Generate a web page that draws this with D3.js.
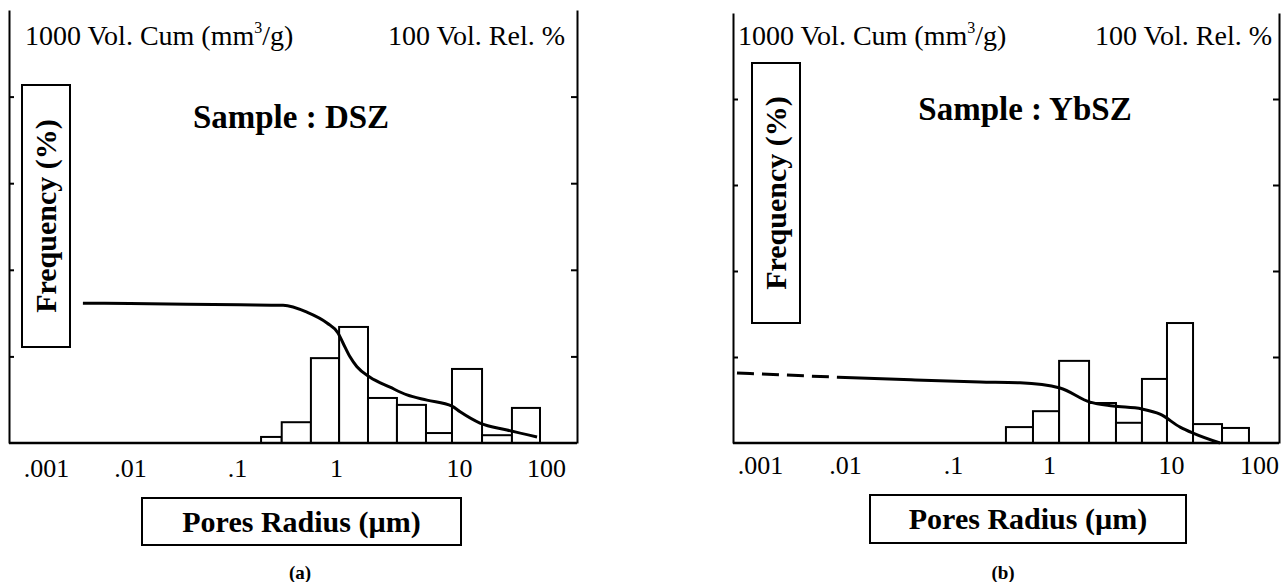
<!DOCTYPE html>
<html>
<head>
<meta charset="utf-8">
<script src="https://cdnjs.cloudflare.com/ajax/libs/d3/7.8.5/d3.min.js"></script>
<style>
  body { margin: 0; background: #fff; }
  svg { display: block; font-family: "Liberation Serif", "Times New Roman", serif; }
</style>
</head>
<body>
<svg id="chart" width="1286" height="582"></svg>
<script>
// pore radius axis (um), log scale; decades are not evenly spaced in the original plot
var radiusTicks = [0.001, 0.01, 0.1, 1, 10, 100];
var radiusLabels = [".001", ".01", ".1", "1", "10", "100"];
var cumTicks = [200, 400, 600, 800];   // left axis, mm3/g (top = 1000)
var relTicks = [20, 40, 60, 80];       // right axis, % (top = 100)

// sample DSZ : histogram (relative volume %) on bin edges
var dszEdges = [0.175, 0.283, 0.558, 1.06, 1.82, 3.13, 5.39, 8.77, 18.4, 40.6, 85.3];
var dszRel = [1.4, 4.8, 19.6, 26.8, 10.4, 8.8, 2.3, 17.1, 1.8, 8.1];
// cumulative volume curve (mm3/g)
var dszCumR = [0.00275, 0.01, 0.107, 0.292, 0.509, 0.811, 1.038, 1.14, 1.30, 1.48, 1.89, 2.75, 3.78, 5.49, 8.77, 10.3, 17.4, 35.6, 78.9];
var dszCum = [323, 322, 319, 318, 302, 277, 254, 231, 199, 176, 152, 129, 111, 99, 85, 72, 46, 30, 14];

// sample YbSZ
var ybEdges = [0.356, 0.681, 1.21, 2.13, 3.54, 5.78, 9.27, 17.8, 38.0, 76.9];
var ybRel = [3.7, 7.4, 19.1, 9.3, 4.7, 14.9, 27.9, 4.4, 3.5];
var ybDashR = [0.000536, 0.00202, 0.00827];
var ybDash = [163, 158, 153];
var ybCumR = [0.00827, 0.0408, 0.191, 0.499, 1.23, 2.17, 3.35, 5.78, 8.13, 12.7, 17.8, 36.1];
var ybCum = [153, 147, 142, 140, 128, 95, 86, 79, 67, 37, 23, 0];

var panels = [
  {
    sample: "Sample : DSZ", tag: "(a)",
    left: 9, right: 577, top: 10, bottom: 443,
    tickPx: [46, 130, 237, 336, 459, 546], tickPad: 16,
    edges: dszEdges, rel: dszRel,
    curves: [{ r: dszCumR, v: dszCum, dash: null }],
    freqBox: { x: 22, y: 85, w: 48, h: 262 },
    poresBox: { x: 142, y: 498, w: 319, h: 47 },
    headL: 25, headR: 565, sampleX: 291, sampleY: 128, tagX: 300
  },
  {
    sample: "Sample : YbSZ", tag: "(b)",
    left: 733, right: 1279, top: 13, bottom: 443,
    tickPx: [760, 845, 953, 1049, 1171, 1259], tickPad: 13,
    edges: ybEdges, rel: ybRel,
    curves: [{ r: ybDashR, v: ybDash, dash: "17,8" }, { r: ybCumR, v: ybCum, dash: null }],
    freqBox: { x: 752, y: 63, w: 48, h: 260 },
    poresBox: { x: 870, y: 495, w: 316, h: 48 },
    headL: 738, headR: 1272, sampleX: 1025, sampleY: 120, tagX: 1003
  }
];

var svg = d3.select("#chart");

panels.forEach(function(p) {
  var x = d3.scaleLog().domain(radiusTicks).range(p.tickPx);
  var yCum = d3.scaleLinear().domain([0, 1000]).range([p.bottom, p.top]);
  var yRel = d3.scaleLinear().domain([0, 100]).range([p.bottom, p.top]);
  var g = svg.append("g");

  // histogram bars
  var bins = p.rel.map(function(v, i) {
    return { x0: p.edges[i], x1: p.edges[i + 1], v: v };
  });
  g.selectAll("rect.bar")
    .data(bins)
    .enter().append("rect")
    .attr("class", "bar")
    .attr("x", function(d) { return x(d.x0); })
    .attr("width", function(d) { return x(d.x1) - x(d.x0); })
    .attr("y", function(d) { return yRel(d.v); })
    .attr("height", function(d) { return p.bottom - yRel(d.v); })
    .attr("fill", "#fff")
    .attr("stroke", "#000")
    .attr("stroke-width", 2);

  // cumulative curve
  var line = d3.line()
    .x(function(d) { return x(d[0]); })
    .y(function(d) { return yCum(d[1]); })
    .curve(d3.curveMonotoneX);
  p.curves.forEach(function(c) {
    g.append("path")
      .datum(d3.zip(c.r, c.v))
      .attr("d", line)
      .attr("fill", "none")
      .attr("stroke", "#000")
      .attr("stroke-width", 3)
      .attr("stroke-dasharray", c.dash);
  });

  // frame: left / right axes + baseline
  var axL = g.append("g")
    .attr("transform", "translate(" + p.left + ",0)")
    .call(d3.axisLeft(yCum).tickValues(cumTicks).tickSize(-5).tickSizeOuter(0).tickFormat(""));
  var axR = g.append("g")
    .attr("transform", "translate(" + p.right + ",0)")
    .call(d3.axisRight(yRel).tickValues(relTicks).tickSize(-6).tickSizeOuter(0).tickFormat(""));
  [axL, axR].forEach(function(a) {
    a.selectAll("path, line").attr("stroke", "#000").attr("stroke-width", 2);
  });
  g.append("line")
    .attr("x1", p.left).attr("x2", p.right)
    .attr("y1", p.bottom).attr("y2", p.bottom)
    .attr("stroke", "#000").attr("stroke-width", 2.5);

  // radius tick labels
  var axB = g.append("g")
    .attr("transform", "translate(0," + p.bottom + ")")
    .call(d3.axisBottom(x).tickValues(radiusTicks).tickSize(0).tickPadding(p.tickPad)
      .tickFormat(function(d, i) { return radiusLabels[i]; }));
  axB.select(".domain").remove();
  axB.attr("font-family", null).attr("font-size", null);
  axB.selectAll("text").attr("font-size", 26).attr("fill", "#000");

  // header texts
  var head = g.append("text")
    .attr("x", p.headL).attr("y", 45)
    .attr("font-size", 28);
  head.append("tspan").text("1000 Vol. Cum (mm");
  head.append("tspan").attr("font-size", 16).attr("dy", -12).text("3");
  head.append("tspan").attr("dy", 12).text("/g)");

  g.append("text")
    .attr("x", p.headR).attr("y", 45)
    .attr("text-anchor", "end")
    .attr("font-size", 28)
    .text("100 Vol. Rel. %");

  g.append("text")
    .attr("x", p.sampleX).attr("y", p.sampleY)
    .attr("text-anchor", "middle")
    .attr("font-size", 33).attr("font-weight", "bold")
    .text(p.sample);

  // frequency label box
  var fb = p.freqBox;
  g.append("rect")
    .attr("x", fb.x).attr("y", fb.y).attr("width", fb.w).attr("height", fb.h)
    .attr("fill", "#fff").attr("stroke", "#000").attr("stroke-width", 2);
  g.append("text")
    .attr("transform", "translate(" + (fb.x + fb.w / 2 + 10) + "," + (fb.y + fb.h / 2) + ") rotate(-90)")
    .attr("text-anchor", "middle")
    .attr("font-size", 30).attr("font-weight", "bold")
    .text("Frequency (%)");

  // pores radius box
  var pb = p.poresBox;
  g.append("rect")
    .attr("x", pb.x).attr("y", pb.y).attr("width", pb.w).attr("height", pb.h)
    .attr("fill", "#fff").attr("stroke", "#000").attr("stroke-width", 2);
  g.append("text")
    .attr("x", pb.x + pb.w / 2).attr("y", pb.y + pb.h / 2 + 10)
    .attr("text-anchor", "middle")
    .attr("font-size", 30).attr("font-weight", "bold")
    .text("Pores Radius (\u00b5m)");

  g.append("text")
    .attr("x", p.tagX).attr("y", 579)
    .attr("text-anchor", "middle")
    .attr("font-size", 19).attr("font-weight", "bold")
    .text(p.tag);
});
</script>
</body>
</html>
